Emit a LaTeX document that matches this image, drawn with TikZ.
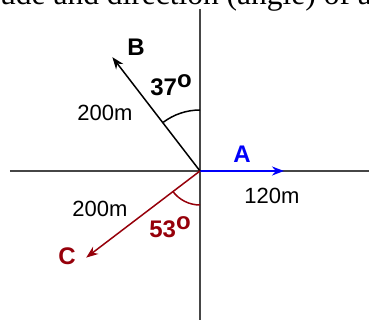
\documentclass[tikz,border=0pt]{standalone}
\usepackage{fontspec}
\setmainfont{Liberation Sans}
\newfontfamily\capfont{Liberation Serif}
\usepackage{xcolor}
\usepackage{tikz}
\usetikzlibrary{arrows.meta}
\definecolor{axisgray}{RGB}{70,70,70}
\definecolor{vecblue}{RGB}{0,0,250}
\definecolor{vecred}{RGB}{150,0,10}
\newcommand{\lblsize}{\fontsize{22}{26}\selectfont}
\newcommand{\boldsize}{\fontsize{24}{28}\selectfont}
\newcommand{\degsup}[1]{#1\raisebox{8.5pt}{o}}

\begin{document}
\begin{tikzpicture}[x=1pt, y=1pt, >=Stealth]
\useasboundingbox (-200,-149) rectangle (169,171);
\clip (-200,-149) rectangle (169,171);
\tikzset{
  axis/.style={axisgray, line width=1.5pt},
  vecline/.style={->, line width=1.5pt, shorten >=-1pt, >={Stealth[length=12pt, width=9pt]}},
  lbl/.style={font=\lblsize, inner sep=0pt},
  bold lbl/.style={font=\boldsize\bfseries, inner sep=0pt}
}

% caption line, cut off at the top
\node[anchor=base west, inner sep=0pt, font=\capfont\fontsize{31.5}{36}\selectfont] (cap) at (-200,166.5) {ude and direction (angle) of a};

% axes
\coordinate (O) at (0,0);
\coordinate (xl) at (-190,0);
\coordinate (xr) at (169,0);
\coordinate (yt) at (0,162);
\coordinate (yb) at (0,-149);
\draw[axis] (xl) -- (xr);
\draw[axis] (yt) -- (yb);

% vector A
\coordinate (Atip) at (83,0);
\draw[vecline, vecblue, line width=2pt] (O) -- (Atip);
\node[bold lbl, vecblue] (Alab) at (42,17) {A};
\node[lbl] (Amag) at (72,-25) {120m};

% vector B
\coordinate (Btip) at (-87,113);
\draw[vecline, black] (O) -- (Btip);
\draw[black, line width=1.5pt] (0,61) arc (90:127:61);
\node[bold lbl] (Blab) at (-64,124) {B};
\node[bold lbl] (Bang) at (-29,86) {\degsup{37}};
\node[lbl] (Bmag) at (-95,58) {200m};

% vector C
\coordinate (Ctip) at (-113,-86);
\draw[vecline, vecred] (O) -- (Ctip);
\draw[vecred, line width=1.5pt] (217:34) arc (217:270:34);
\node[bold lbl, vecred] (Clab) at (-133,-85) {C};
\node[bold lbl, vecred] (Cang) at (-30,-56) {\degsup{53}};
\node[lbl] (Cmag) at (-100,-38) {200m};

\end{tikzpicture}
\end{document}
